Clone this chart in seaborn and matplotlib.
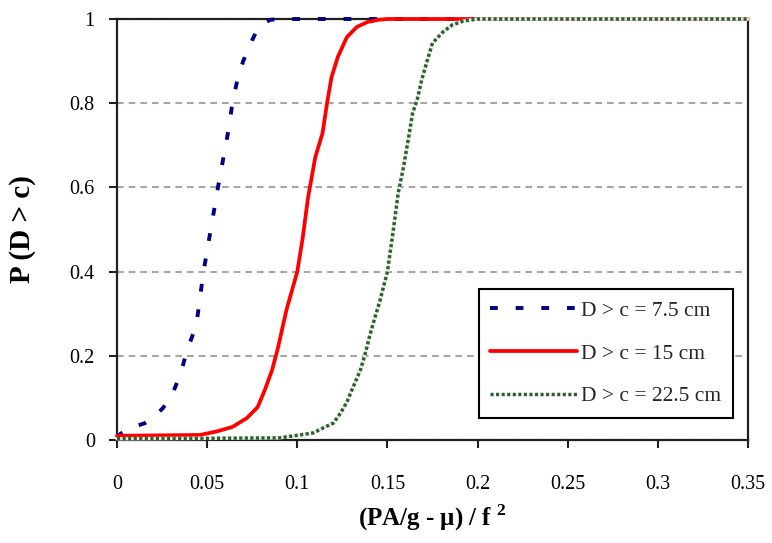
import numpy as np
import pandas as pd
import seaborn as sns
import matplotlib.pyplot as plt
from matplotlib.ticker import FuncFormatter

# Exceedance probability curves P(D > c) against the normalised load term
x_75 = [0.0, 0.002, 0.007, 0.0155, 0.02, 0.0255, 0.0305, 0.035, 0.039, 0.044,
        0.048, 0.052, 0.056, 0.059, 0.062, 0.064, 0.067, 0.070, 0.075, 0.079,
        0.085, 0.09, 0.35]
p_75 = [0.005, 0.015, 0.028, 0.04, 0.052, 0.076, 0.107, 0.154, 0.214, 0.273,
        0.40, 0.50, 0.60, 0.67, 0.74, 0.80, 0.86, 0.90, 0.95, 0.985,
        0.998, 1.0, 1.0]

x_15 = [0.0, 0.046, 0.055, 0.064, 0.072, 0.078, 0.082, 0.086, 0.089, 0.094,
        0.100, 0.103, 0.106, 0.110, 0.114, 0.1165, 0.119, 0.1225, 0.1275, 0.133,
        0.139, 0.145, 0.15, 0.35]
p_15 = [0.01, 0.012, 0.02, 0.031, 0.052, 0.078, 0.119, 0.166, 0.214, 0.309,
        0.40, 0.48, 0.577, 0.672, 0.729, 0.80, 0.862, 0.91, 0.957, 0.981,
        0.993, 0.998, 1.0, 1.0]

x_225 = [0.0, 0.05, 0.09, 0.1015, 0.109, 0.114, 0.12, 0.124, 0.1275, 0.131,
         0.135, 0.1375, 0.140, 0.143, 0.146, 0.150, 0.153, 0.156, 0.159, 0.1615,
         0.164, 0.1665, 0.169, 0.172, 0.175, 0.181, 0.186, 0.192, 0.2, 0.35]
p_225 = [0.003, 0.004, 0.005, 0.012, 0.017, 0.028, 0.04, 0.064, 0.09, 0.126,
         0.166, 0.202, 0.245, 0.29, 0.333, 0.40, 0.49, 0.587, 0.65, 0.713,
         0.777, 0.808, 0.855, 0.90, 0.943, 0.97, 0.986, 0.995, 1.0, 1.0]

series_labels = ["D > c = 7.5 cm", "D > c = 15 cm", "D > c = 22.5 cm"]
x_ticks = [0, 0.05, 0.1, 0.15, 0.2, 0.25, 0.3, 0.35]
y_ticks = [0, 0.2, 0.4, 0.6, 0.8, 1.0]
x_title = r"(PA/g - μ) / f ${}^{\mathbf{2}}$"
y_title = "P (D > c)"

sns.set_theme(style="white")
plt.rcParams['font.family'] = ['Liberation Serif', 'DejaVu Serif']
plt.rcParams['mathtext.fontset'] = 'custom'
plt.rcParams['mathtext.rm'] = 'Liberation Serif'
plt.rcParams['mathtext.bf'] = 'Liberation Serif:bold'

fig = plt.figure(figsize=(7.72, 5.43), dpi=100)
ax = fig.add_axes([117 / 772, 1 - 440 / 543, 631 / 772, 421 / 543])

# 7.5 cm: navy short dashes
sns.lineplot(x=x_75, y=p_75, ax=ax, color="#000080", lw=2.8, estimator=None,
             sort=False, linestyle=(0, (2.0, 4.6)), label=series_labels[0],
             zorder=3, clip_on=False)
# 15 cm: solid red
sns.lineplot(x=x_15, y=p_15, ax=ax, color="#ff0000", lw=2.7, estimator=None,
             sort=False, label=series_labels[1], zorder=4, clip_on=False)
# 22.5 cm: chained green line (light core with dark green dots)
ax.plot(x_225, p_225, color="#e6efe6", lw=2.5, zorder=5, clip_on=False)
sns.lineplot(x=x_225, y=p_225, ax=ax, color="#2f5f2f", lw=2.5, estimator=None,
             sort=False, linestyle=(0, (0.9, 0.7)), label=series_labels[2],
             zorder=6, clip_on=False)

ax.set_xlim(0, 0.35)
ax.set_ylim(0, 1)
ax.set_xticks(x_ticks)
ax.set_yticks(y_ticks)
fmt = FuncFormatter(lambda v, _: f"{v:g}")
ax.xaxis.set_major_formatter(fmt)
ax.yaxis.set_major_formatter(fmt)

ax.yaxis.grid(True, color="#a6a6a6", lw=1.5, linestyle=(0, (3.2, 2.4)))
ax.xaxis.grid(False)
ax.set_axisbelow(True)

for s in ax.spines.values():
    s.set_visible(True)
    s.set_color("#202020")
    s.set_linewidth(1.6)

ax.tick_params(axis="both", which="major", direction="out", length=6, width=1.5,
               color="#202020", labelcolor="black", labelsize=14.5,
               bottom=True, left=True, top=False, right=False)
ax.tick_params(axis="x", pad=19)
ax.tick_params(axis="y", pad=10)

ax.set_xlabel(x_title, fontsize=18, fontweight="bold", color="black")
ax.set_ylabel(y_title, fontsize=21, fontweight="bold", color="black")
ax.xaxis.set_label_coords(0.5, -0.148)
ax.yaxis.set_label_coords(-0.128, 0.5)

leg = ax.legend(loc="lower right", bbox_to_anchor=(0.976, 0.052),
                borderaxespad=0, frameon=True, fancybox=False,
                edgecolor="black", framealpha=1, fontsize=15.5,
                handlelength=4.0, handletextpad=0.2, labelspacing=1.05,
                borderpad=0.55)
leg.get_frame().set_linewidth(1.5)
leg.set_zorder(10)

fig.savefig("out.png", dpi=100, facecolor="white")
